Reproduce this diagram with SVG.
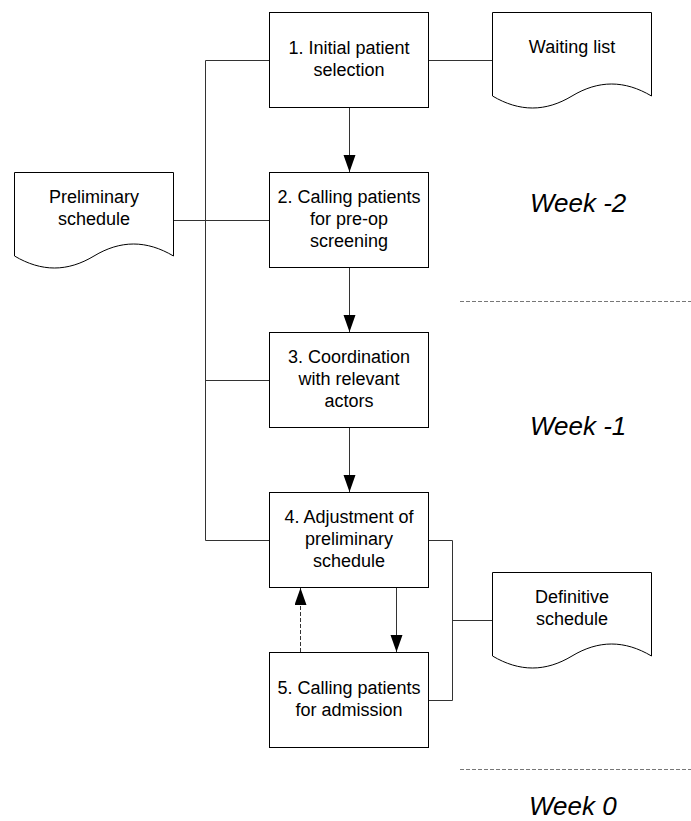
<svg xmlns="http://www.w3.org/2000/svg" width="691" height="821" viewBox="0 0 691 821">
<style>
.box{fill:#fff;stroke:#000;stroke-width:1}
.doc{fill:#fff;stroke:#000;stroke-width:1}
.t{font-family:"Liberation Sans",Arial,sans-serif;font-size:18px;fill:#000;text-anchor:middle}
.wk{font-family:"Liberation Sans",Arial,sans-serif;font-size:26px;font-style:italic;fill:#000}
.c{fill:none;stroke:#333;stroke-width:1}
.sep{fill:none;stroke:#777;stroke-width:1;stroke-dasharray:4 2}
</style>
<defs>
<marker id="ah" markerUnits="userSpaceOnUse" markerWidth="18" markerHeight="13" refX="17" refY="6" orient="auto">
<path d="M0,0 L17,6 L0,12 z" fill="#000"/>
</marker>
</defs>
<rect width="691" height="821" fill="#fff"/>

<g id="connectors">
<path class="c" d="M269,60.5 H205.5 V540.5 H269"/>
<path class="c" d="M205.5,220.5 H269"/>
<path class="c" d="M205.5,380.5 H269"/>
<path class="c" d="M174,220.5 H205" stroke-width="2"/>
<path class="c" d="M429,60.5 H492"/>
<path class="c" d="M429,540.5 H452.5 V700.5 H429"/>
<path class="c" d="M452.5,620.5 H492"/>
<path class="c" d="M349.5,108 V172" marker-end="url(#ah)"/>
<path class="c" d="M349.5,268 V332" marker-end="url(#ah)"/>
<path class="c" d="M349.5,428 V492" marker-end="url(#ah)"/>
<path class="c" d="M396.5,588 V652" marker-end="url(#ah)"/>
<path class="c" d="M300.5,652 V588" stroke="#000" stroke-dasharray="4 2" marker-end="url(#ah)"/>
</g>

<g id="separators">
<path class="sep" d="M460,301.5 H691"/>
<path class="sep" d="M460,769.5 H691"/>
</g>

<g id="n1">
<rect class="box" x="269.5" y="12.5" width="159" height="95"/>
<text class="t" x="349" y="54.2">1. Initial patient</text>
<text class="t" x="349" y="75.8">selection</text>
</g>
<g id="n2">
<rect class="box" x="269.5" y="172.5" width="159" height="95"/>
<text class="t" x="349" y="203.4">2. Calling patients</text>
<text class="t" x="349" y="225">for pre-op</text>
<text class="t" x="349" y="246.6">screening</text>
</g>
<g id="n3">
<rect class="box" x="269.5" y="332.5" width="159" height="95"/>
<text class="t" x="349" y="363.4">3. Coordination</text>
<text class="t" x="349" y="385">with relevant</text>
<text class="t" x="349" y="406.6">actors</text>
</g>
<g id="n4">
<rect class="box" x="269.5" y="492.5" width="159" height="95"/>
<text class="t" x="349" y="523.4">4. Adjustment of</text>
<text class="t" x="349" y="545">preliminary</text>
<text class="t" x="349" y="566.6">schedule</text>
</g>
<g id="n5">
<rect class="box" x="269.5" y="652.5" width="159" height="95"/>
<text class="t" x="349" y="694.2">5. Calling patients</text>
<text class="t" x="349" y="715.8">for admission</text>
</g>

<g id="waiting-list">
<path class="doc" d="M492.5,12.5 H651.5 V96 C624.5,80 598.5,80 572,96 C545.5,112 519.5,112 492.5,96 Z"/>
<text class="t" x="572" y="53">Waiting list</text>
</g>
<g id="preliminary-schedule">
<path class="doc" d="M14.5,172.5 H173.5 V256 C146.5,240 120.5,240 94,256 C67.5,272 41.5,272 14.5,256 Z"/>
<text class="t" x="94" y="203">Preliminary</text>
<text class="t" x="94" y="224.6">schedule</text>
</g>
<g id="definitive-schedule">
<path class="doc" d="M492.5,572.5 H651.5 V656 C624.5,640 598.5,640 572,656 C545.5,672 519.5,672 492.5,656 Z"/>
<text class="t" x="572" y="603">Definitive</text>
<text class="t" x="572" y="624.6">schedule</text>
</g>

<g id="weeks">
<text class="wk" x="530" y="212">Week -2</text>
<text class="wk" x="530" y="434.5">Week -1</text>
<text class="wk" x="529" y="815">Week 0</text>
</g>
</svg>
